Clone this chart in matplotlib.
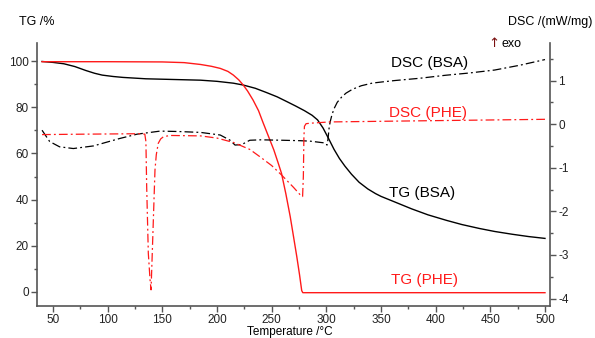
import matplotlib
matplotlib.use("Agg")
import matplotlib.pyplot as plt
from matplotlib.ticker import MultipleLocator

# TG curves (temperature /°C, mass /%)
tg_bsa_t = [40, 50, 60, 70, 80, 88, 95, 105, 114, 135, 160, 185, 200, 215, 224, 235, 245, 255, 264, 272,
            280, 287, 292, 297, 302, 307, 312, 317, 323, 330, 338, 345, 350, 363, 378, 393, 410, 424, 440,
            454, 470, 485, 500]
tg_bsa_v = [99.8, 99.4, 98.8, 97.6, 95.9, 94.7, 93.9, 93.3, 92.9, 92.3, 92.0, 91.7, 91.2, 90.4, 89.6, 88.2,
            86.4, 84.5, 82.4, 80.5, 78.5, 76.5, 74.5, 71.0, 66.5, 61.8, 57.8, 54.5, 51.0, 47.5, 44.6, 42.6,
            41.4, 38.9, 36.0, 33.4, 31.0, 29.2, 27.5, 26.2, 25.0, 24.0, 23.2]

tg_phe_t = [40, 100, 150, 170, 185, 195, 203, 210, 215, 220, 224, 228, 233, 238, 242, 247, 252, 256, 259,
            263, 267, 270, 273, 275.5, 277.5, 278.5, 500]
tg_phe_v = [99.7, 99.7, 99.6, 99.3, 98.5, 97.7, 96.8, 95.5, 93.9, 91.8, 89.6, 87.0, 83.1, 78.5, 73.5, 67.5,
            61.5, 55.8, 51.4, 42.5, 32.6, 24.0, 15.3, 7.5, 0.6, -0.3, -0.3]

# DSC curves (temperature /°C, mW/mg)
dsc_bsa_t = [40, 47, 56, 68.6, 87, 111, 127, 148, 165, 185, 203, 212, 216.5, 222.6, 230, 240, 260, 276,
             285, 298, 300.7, 301.5, 302.5, 303.5, 305, 307, 310, 314, 318, 324, 332, 342, 352, 363, 385,
             409, 430, 454, 477, 500]
dsc_bsa_v = [-0.14, -0.40, -0.52, -0.56, -0.50, -0.33, -0.23, -0.16, -0.17, -0.19, -0.25, -0.37, -0.48,
             -0.47, -0.37, -0.36, -0.37, -0.38, -0.39, -0.43, -0.48, -0.35, -0.10, 0.05, 0.20, 0.35, 0.50,
             0.62, 0.71, 0.80, 0.88, 0.94, 0.97, 1.00, 1.05, 1.12, 1.17, 1.24, 1.35, 1.48]

dsc_phe_t = [40, 80, 130, 134, 135, 135.7, 137.2, 138.8, 139.7, 140.5, 141.8, 143.3, 144.5, 146.3, 148.5,
             151, 157, 185, 200, 215, 230, 239.4, 250, 259.2, 270, 277.5, 278.3, 279.0, 279.5, 280.0,
             281.5, 285, 303, 400, 500]
dsc_phe_v = [-0.24, -0.23, -0.22, -0.23, -0.40, -1.43, -2.96, -3.57, -3.80, -3.20, -2.20, -1.05, -0.70,
             -0.44, -0.34, -0.29, -0.26, -0.27, -0.32, -0.42, -0.58, -0.75, -0.95, -1.17, -1.45, -1.66,
             -1.66, -1.20, -0.30, -0.05, 0.01, 0.02, 0.05, 0.08, 0.11]

plt.rcParams['font.family'] = ['Liberation Sans', 'DejaVu Sans']
plt.rcParams['axes.unicode_minus'] = False

spine_col = '#555555'
red = '#ff1a1a'
dashdot = [7, 2.5, 1.5, 2.5]

fig = plt.figure(figsize=(5.95, 3.38), dpi=100)
ax = fig.add_axes([0.0622, 0.0947, 0.8622, 0.7781])
ax2 = ax.twinx()

ax.plot(tg_bsa_t, tg_bsa_v, color='black', lw=1.0)
ax.plot(tg_phe_t, tg_phe_v, color=red, lw=1.0)
ax2.plot(dsc_bsa_t, dsc_bsa_v, color='black', lw=0.9, dashes=dashdot)
ax2.plot(dsc_phe_t, dsc_phe_v, color=red, lw=0.9, dashes=dashdot)

ax.set_xlim(35.4, 504.6)
ax.set_ylim(-6.06, 107.8)
ax2.set_ylim(-4.17, 1.86)

ax.xaxis.set_major_locator(MultipleLocator(50))
ax.xaxis.set_minor_locator(MultipleLocator(25))
ax.yaxis.set_major_locator(MultipleLocator(20))
ax.yaxis.set_minor_locator(MultipleLocator(10))
ax2.yaxis.set_major_locator(MultipleLocator(1))
ax2.yaxis.set_minor_locator(MultipleLocator(0.5))

for a in (ax, ax2):
    for s in a.spines.values():
        s.set_color(spine_col)
        s.set_linewidth(1.2)
    a.spines['top'].set_visible(False)
    a.tick_params(which='major', direction='out', length=4, width=1, color=spine_col,
                  labelsize=8.5, labelcolor='#222222', pad=2)
    a.tick_params(which='minor', direction='out', length=2.5, width=1, color=spine_col)
ax.spines['right'].set_visible(False)
ax2.spines['left'].set_visible(False)
ax2.spines['bottom'].set_visible(False)

# curve labels
ax.text(394.8, 99.1, 'DSC (BSA)', color='black', fontsize=11, ha='center', va='center')
ax.text(393, 77.7, 'DSC (PHE)', color=red, fontsize=11, ha='center', va='center')
ax.text(387.5, 42.9, 'TG (BSA)', color='black', fontsize=11, ha='center', va='center')
ax.text(390, 5.2, 'TG (PHE)', color=red, fontsize=11, ha='center', va='center')

fig.text(0.0613, 0.935, 'TG /%', fontsize=9, ha='center', va='center')
fig.text(0.924, 0.935, 'DSC /(mW/mg)', fontsize=9, ha='center', va='center')
fig.text(0.820, 0.871, '\u2191', fontsize=9.5, color='#7a1010', ha='left', va='center',
         family='DejaVu Sans')
fig.text(0.843, 0.869, 'exo', fontsize=9, ha='left', va='center')
fig.text(0.4866, 0.017, 'Temperature /\u00b0C', fontsize=8.5, ha='center', va='center')

fig.savefig('out.png', dpi=100)
